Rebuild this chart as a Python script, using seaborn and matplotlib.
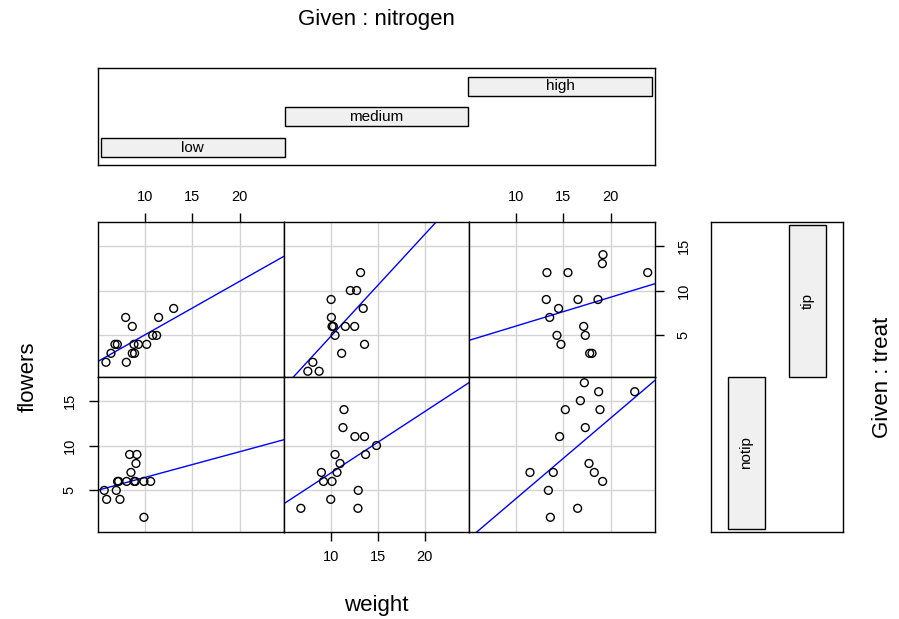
import numpy as np
import pandas as pd
import matplotlib
matplotlib.use("Agg")
import matplotlib.pyplot as plt
import seaborn as sns

sns.set_style("white", {"text.color": "black", "xtick.color": "black",
                        "ytick.color": "black", "axes.labelcolor": "black"})
plt.rcParams['font.family'] = ['Liberation Sans', 'DejaVu Sans']

nitrogen_levels = ["low", "medium", "high"]
treat_levels = ["notip", "tip"]

# values, one list pair per panel
tip_low_weight = [5.88, 6.41, 6.83, 7.08, 7.96, 8.66, 8.03, 8.66, 8.90, 8.84, 9.30, 10.18, 10.81, 11.23, 11.44, 13.03]
tip_low_flowers = [2, 3, 4, 4, 7, 6, 2, 3, 3, 4, 4, 4, 5, 5, 7, 8]
tip_medium_weight = [7.57, 8.77, 8.10, 10.04, 10.07, 10.14, 10.28, 10.46, 11.16, 11.55, 12.54, 12.08, 12.75, 13.17, 13.45, 13.59]
tip_medium_flowers = [1, 1, 2, 9, 7, 6, 6, 5, 3, 6, 6, 10, 10, 12, 8, 4]
tip_high_weight = [13.27, 15.49, 19.19, 19.12, 23.91, 13.20, 16.55, 18.66, 14.50, 13.56, 17.15, 17.32, 14.33, 14.75, 17.78, 18.03]
tip_high_flowers = [12, 12, 14, 13, 12, 9, 9, 9, 8, 7, 6, 5, 5, 4, 3, 3]
notip_low_weight = [5.70, 5.95, 6.97, 7.36, 7.11, 7.22, 8.06, 8.87, 8.98, 9.89, 10.60, 8.52, 9.05, 8.38, 9.15, 9.89]
notip_low_flowers = [5, 4, 5, 4, 6, 6, 6, 6, 6, 6, 6, 7, 8, 9, 9, 2]
notip_medium_weight = [6.83, 10.00, 12.92, 12.89, 9.01, 9.23, 10.14, 10.67, 10.99, 10.46, 11.41, 11.30, 12.57, 13.59, 13.70, 14.86]
notip_medium_flowers = [3, 4, 5, 3, 7, 6, 6, 7, 8, 9, 14, 12, 11, 11, 9, 10]
notip_high_weight = [17.22, 18.73, 22.54, 16.80, 18.87, 15.21, 17.32, 14.61, 17.71, 18.27, 19.15, 11.48, 13.94, 13.42, 16.51, 13.63]
notip_high_flowers = [17, 16, 16, 15, 14, 14, 12, 11, 8, 7, 6, 7, 7, 5, 3, 2]

x_ticks = [10, 15, 20]
y_ticks = [5, 10, 15]

panels = {
    ("tip", "low"): (tip_low_weight, tip_low_flowers),
    ("tip", "medium"): (tip_medium_weight, tip_medium_flowers),
    ("tip", "high"): (tip_high_weight, tip_high_flowers),
    ("notip", "low"): (notip_low_weight, notip_low_flowers),
    ("notip", "medium"): (notip_medium_weight, notip_medium_flowers),
    ("notip", "high"): (notip_high_weight, notip_high_flowers),
}
frames = []
for (tr, ni), (w, f) in panels.items():
    frames.append(pd.DataFrame({"weight": w, "flowers": f, "treat": tr, "nitrogen": ni}))
df = pd.concat(frames, ignore_index=True)

W, H = 899, 619
fig = plt.figure(figsize=(W / 100, H / 100), dpi=100)


def px(l, t, r, b):
    return [l / W, 1 - b / H, (r - l) / W, (b - t) / H]


col_edges = [98, 284, 469, 655]
row_edges = {"tip": (222, 377), "notip": (377, 532)}
xlim = (5.04, 24.68)
ylim = (0.36, 17.64)

for tr in ["tip", "notip"]:
    for j, ni in enumerate(nitrogen_levels):
        t, b = row_edges[tr]
        ax = fig.add_axes(px(col_edges[j], t, col_edges[j + 1], b))
        sub = df[(df.treat == tr) & (df.nitrogen == ni)]
        ax.set_xlim(*xlim)
        ax.set_ylim(*ylim)
        ax.set_xticks(x_ticks)
        ax.set_yticks(y_ticks)
        ax.grid(True, color="#d3d3d3", lw=1)
        ax.set_axisbelow(True)
        sns.scatterplot(data=sub, x="weight", y="flowers", ax=ax, marker="o",
                        facecolor="none", edgecolor="black", s=32, linewidth=1, zorder=3)
        sns.regplot(data=sub, x="weight", y="flowers", ax=ax, scatter=False, ci=None,
                    truncate=False, color="blue", line_kws={"lw": 1})
        ax.set_xlim(*xlim)
        ax.set_ylim(*ylim)
        ax.set_xlabel("")
        ax.set_ylabel("")
        for s in ax.spines.values():
            s.set_color("black")
            s.set_linewidth(1)
        top_lab = tr == "tip" and j in (0, 2)
        bot_lab = tr == "notip" and j == 1
        left_lab = tr == "notip" and j == 0
        right_lab = tr == "tip" and j == 2
        ax.tick_params(axis="x", top=top_lab, labeltop=top_lab, bottom=bot_lab,
                       labelbottom=bot_lab, length=6.5, width=1, pad=6.5, labelsize=10.5,
                       direction="out", color="black", labelcolor="black")
        ax.tick_params(axis="y", left=left_lab, labelleft=left_lab, right=right_lab,
                       labelright=right_lab, length=6.5, width=1, pad=9, labelsize=10.5,
                       labelrotation=90, direction="out", color="black", labelcolor="black")
        for lbl in ax.get_yticklabels():
            lbl.set_va("center")

# Given : nitrogen panel
ax_n = fig.add_axes(px(98, 68, 655, 165))
ax_n.barh(y=[1, 2, 3], width=1, left=[0.5, 1.5, 2.5], height=0.62,
          color="#f0f0f0", edgecolor="black", lw=1)
for i, lev in enumerate(nitrogen_levels):
    ax_n.text(i + 1, i + 1, lev, ha="center", va="center", fontsize=11, color="black")
ax_n.set_xlim(0.484, 3.516)
ax_n.set_ylim(0.43, 3.6)
ax_n.set_xticks([])
ax_n.set_yticks([])
for s in ax_n.spines.values():
    s.set_color("black")
    s.set_linewidth(1)

# Given : treat panel
ax_t = fig.add_axes(px(711, 222, 843, 532))
ax_t.bar(x=[1, 2], height=1, bottom=[0.5, 1.5], width=0.61,
         color="#f0f0f0", edgecolor="black", lw=1)
for i, lev in enumerate(treat_levels):
    ax_t.text(i + 1, i + 1, lev, ha="center", va="center", fontsize=11, rotation=90,
              color="black")
ax_t.set_xlim(0.418, 2.582)
ax_t.set_ylim(0.48, 2.52)
ax_t.set_xticks([])
ax_t.set_yticks([])
for s in ax_t.spines.values():
    s.set_color("black")
    s.set_linewidth(1)

fig.text(376 / W, 1 - 20 / H, "Given : nitrogen", ha="center", va="center", fontsize=16, color="black")
fig.text(376 / W, 1 - 605 / H, "weight", ha="center", va="center", fontsize=16, color="black")
fig.text(28 / W, 1 - 377 / H, "flowers", ha="center", va="center", fontsize=16, rotation=90, color="black")
fig.text(883 / W, 1 - 377 / H, "Given : treat", ha="center", va="center", fontsize=16, rotation=90, color="black")

fig.savefig("out.png", dpi=100)
